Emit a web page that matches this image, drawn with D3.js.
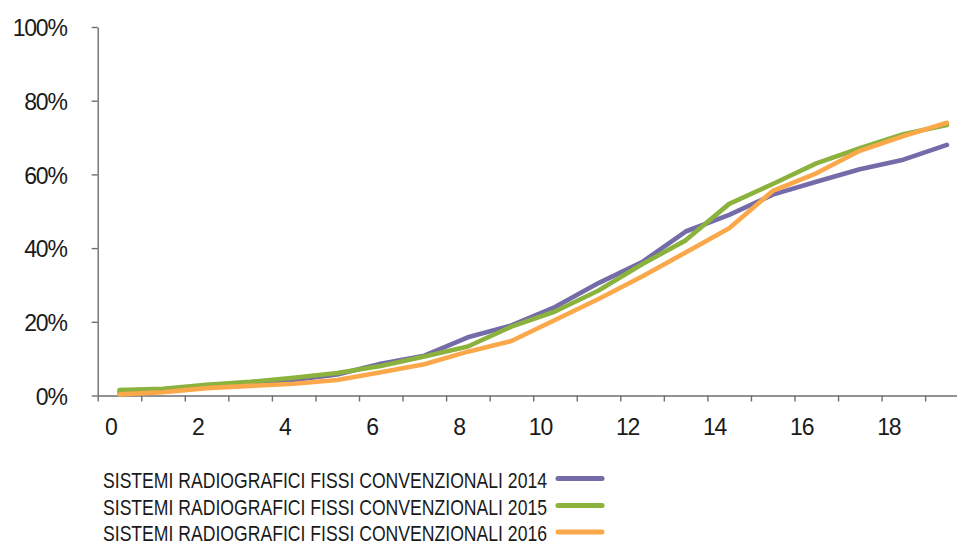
<!DOCTYPE html>
<html>
<head>
<meta charset="utf-8">
<script src="https://cdn.jsdelivr.net/npm/d3@7"></script>
<style>
  html, body { margin: 0; padding: 0; background: #fff; }
  svg text { fill: #1a1a1a; }
</style>
</head>
<body>
<div id="chart"></div>
<script>
// categories on the x axis (0..19) and the shown tick labels
var categories = d3.range(0, 20);
var xLabels = [0, 2, 4, 6, 8, 10, 12, 14, 16, 18];
var yTicks = [0, 0.2, 0.4, 0.6, 0.8, 1];

// cumulative shares (in %)
var values2014 = [0.9, 1.5, 2.4, 3.2, 4.2, 5.7, 8.6, 10.8, 15.8, 19.0, 24.0, 30.5, 36.2, 44.5, 49.0, 54.5, 58.0, 61.4, 64.0, 68.0];
var values2015 = [1.5, 1.8, 2.9, 3.7, 4.8, 6.1, 8.0, 10.6, 13.3, 18.7, 22.8, 28.5, 35.6, 42.1, 52.0, 57.4, 63.0, 67.1, 70.9, 73.4];
var values2016 = [0.3, 0.9, 2.0, 2.6, 3.2, 4.2, 6.3, 8.5, 11.9, 14.8, 20.5, 26.2, 32.3, 38.8, 45.4, 55.5, 60.3, 66.4, 70.4, 74.0];

var seriesNames = [
  "SISTEMI RADIOGRAFICI FISSI CONVENZIONALI 2014",
  "SISTEMI RADIOGRAFICI FISSI CONVENZIONALI 2015",
  "SISTEMI RADIOGRAFICI FISSI CONVENZIONALI 2016"
];
var colors = ["#746ca8", "#8ab23c", "#fba84a"];

var series = [values2014, values2015, values2016].map(function(v, i) {
  return { name: seriesNames[i], color: colors[i], values: v };
});

var width = 957, height = 547;
var plot = { left: 97.7, right: 968.7, top: 27, bottom: 395.5 };

var svg = d3.select("#chart").append("svg")
    .attr("width", width)
    .attr("height", height)
    .style("font-family", "Lato, 'Open Sans', sans-serif");

var x = d3.scaleBand()
    .domain(categories)
    .range([plot.left, plot.right])
    .paddingInner(0)
    .paddingOuter(0);

// boundaries between categories, for the tick marks
var xEdges = d3.scaleLinear()
    .domain([0, 20])
    .range([plot.left, plot.right]);

var y = d3.scaleLinear()
    .domain([0, 1])
    .range([plot.bottom, plot.top]);

// y axis
var yAxis = svg.append("g")
    .attr("transform", "translate(" + plot.left + ",0)")
    .call(d3.axisLeft(y)
      .tickValues(yTicks)
      .tickFormat(d3.format(".0%"))
      .tickSizeInner(6)
      .tickSizeOuter(0)
      .tickPadding(25));
yAxis.select(".domain").attr("stroke", "#6e6e6e").attr("stroke-width", 1.4);
yAxis.selectAll(".tick line").attr("stroke", "#6e6e6e").attr("stroke-width", 1.4);
yAxis.selectAll(".tick text")
    .attr("font-size", 23)
    .attr("letter-spacing", -1.2)
    .attr("dy", "0.38em")
    .style("fill", "#1a1a1a");

// x axis: tick marks at category edges
var xAxis = svg.append("g")
    .attr("transform", "translate(0," + plot.bottom + ")")
    .call(d3.axisBottom(xEdges)
      .tickValues(d3.range(0, 21))
      .tickFormat("")
      .tickSizeInner(6)
      .tickSizeOuter(0));
xAxis.select(".domain").attr("stroke", "#6e6e6e").attr("stroke-width", 1.4);
xAxis.selectAll(".tick line").attr("stroke", "#6e6e6e").attr("stroke-width", 1.4);

// x labels at category centres
var xLab = svg.append("g")
    .attr("transform", "translate(0," + plot.bottom + ")")
    .call(d3.axisBottom(x)
      .tickValues(xLabels)
      .tickSize(0)
      .tickPadding(23));
xLab.select(".domain").remove();
xLab.selectAll(".tick text")
    .attr("font-size", 23)
    .attr("letter-spacing", -1.2)
    .attr("text-anchor", "end")
    .attr("dx", -3)
    .style("fill", "#1a1a1a");

// lines
var line = d3.line()
    .x(function(d, i) { return x(categories[i]) + x.bandwidth() / 2; })
    .y(function(d) { return y(d / 100); });

svg.selectAll(".series")
    .data(series)
  .enter().append("path")
    .attr("class", "series")
    .attr("fill", "none")
    .attr("stroke", function(d) { return d.color; })
    .attr("stroke-width", 4.6)
    .attr("stroke-linejoin", "round")
    .attr("stroke-linecap", "round")
    .attr("d", function(d) { return line(d.values); });

// legend
var legendY = [480, 507, 533.5];
var legend = svg.selectAll(".legend")
    .data(series)
  .enter().append("g")
    .attr("class", "legend")
    .attr("transform", function(d, i) { return "translate(0," + legendY[i] + ")"; });

legend.append("text")
    .attr("x", 103)
    .attr("dy", "0.36em")
    .attr("font-size", 22)
    .attr("font-family", "'Liberation Sans Narrow', 'Liberation Sans', sans-serif")
    .attr("textLength", 444)
    .attr("lengthAdjust", "spacingAndGlyphs")
    .text(function(d) { return d.name; });

legend.append("line")
    .attr("x1", 558)
    .attr("x2", 602)
    .attr("y1", -1.5)
    .attr("y2", -1.5)
    .attr("stroke", function(d) { return d.color; })
    .attr("stroke-width", 5)
    .attr("stroke-linecap", "round");
</script>
</body>
</html>
